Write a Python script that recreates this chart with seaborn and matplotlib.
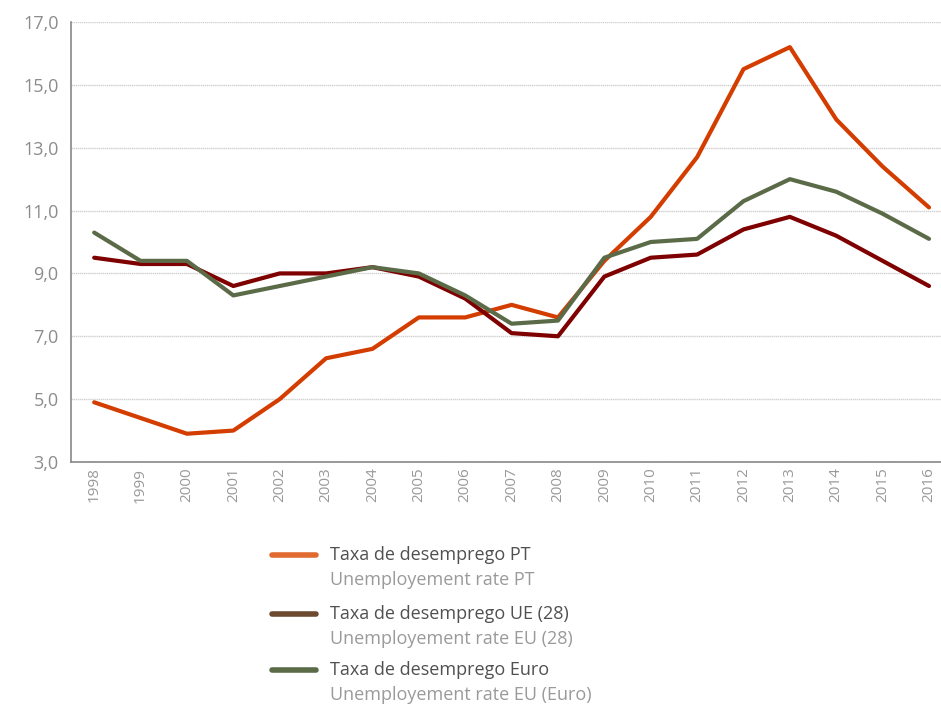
import pandas as pd
import seaborn as sns
import matplotlib.pyplot as plt
from matplotlib.lines import Line2D
from matplotlib.ticker import FuncFormatter

# dados
anos = [str(a) for a in range(1998, 2017)]
taxa_pt = [4.9, 4.4, 3.9, 4.0, 5.0, 6.3, 6.6, 7.6, 7.6, 8.0, 7.6, 9.4, 10.8, 12.7, 15.5, 16.2, 13.9, 12.4, 11.1]
taxa_ue28 = [9.5, 9.3, 9.3, 8.6, 9.0, 9.0, 9.2, 8.9, 8.2, 7.1, 7.0, 8.9, 9.5, 9.6, 10.4, 10.8, 10.2, 9.4, 8.6]
taxa_euro = [10.3, 9.4, 9.4, 8.3, 8.6, 8.9, 9.2, 9.0, 8.3, 7.4, 7.5, 9.5, 10.0, 10.1, 11.3, 12.0, 11.6, 10.9, 10.1]

series = ['PT', 'UE28', 'Euro']
titulos = ['Taxa de desemprego PT', 'Taxa de desemprego UE (28)', 'Taxa de desemprego Euro']
subtitulos = ['Unemployement rate PT', 'Unemployement rate EU (28)', 'Unemployement rate EU (Euro)']
cores_linha = {'PT': '#d43d00', 'UE28': '#7f0000', 'Euro': '#5b6b48'}
cores_legenda = ['#e06a30', '#6b4a30', '#5b6b48']

df = pd.DataFrame({
    'ano': list(range(len(anos))) * 3,
    'taxa': taxa_pt + taxa_ue28 + taxa_euro,
    'serie': [s for s in series for _ in anos],
})

sns.set_style('white')
plt.rcParams['font.family'] = ['Open Sans', 'DejaVu Sans']

fig = plt.figure(figsize=(9.41, 7.07), dpi=100)
ax = fig.add_axes([71 / 941, 245 / 707, 870 / 941, 440 / 707])

sns.lineplot(data=df, x='ano', y='taxa', hue='serie', palette=cores_linha,
             linewidth=3, ax=ax, legend=False, zorder=3)

# eixos
ax.set_ylim(3, 17)
ax.set_yticks([3, 5, 7, 9, 11, 13, 15, 17])
ax.yaxis.set_major_formatter(FuncFormatter(lambda v, p: f'{v:.1f}'.replace('.', ',')))
ax.set_xticks([i - 0.5 for i in range(len(anos))])
ax.set_xticklabels([])
ax.set_xticks(range(len(anos)), minor=True)
ax.set_xticklabels(anos, minor=True, rotation=90)
ax.set_xlim(-0.5, 18 + 12 / 46.4)
ax.tick_params(axis='x', which='major', length=6, color='#888888', width=1, direction='out')
ax.tick_params(axis='x', which='minor', length=0, labelsize=11, labelcolor='#999999', pad=4)
ax.tick_params(axis='y', length=6, color='#888888', width=1, direction='out',
               labelsize=13, labelcolor='#8c8c8c', pad=3)
ax.set_xlabel('')
ax.set_ylabel('')
ax.yaxis.grid(True, color='#d0d0d0', linestyle=(0, (1, 0.5)), linewidth=1)
ax.set_axisbelow(True)
for lado in ['top', 'right']:
    ax.spines[lado].set_visible(False)
for lado in ['left', 'bottom']:
    ax.spines[lado].set_color('#888888')
    ax.spines[lado].set_linewidth(1.2)

# legenda
ys = [555, 614, 670]
for y, cor, t, s in zip(ys, cores_legenda, titulos, subtitulos):
    yf = 1 - y / 707
    fig.add_artist(Line2D([272 / 941, 316 / 941], [yf, yf], color=cor, linewidth=4))
    fig.text(330 / 941, yf, t, fontsize=13, color='#505050', va='center')
    fig.text(330 / 941, yf - 25 / 707, s, fontsize=13, color='#9a9a9a', va='center')

plt.savefig('out.png', dpi=100)
